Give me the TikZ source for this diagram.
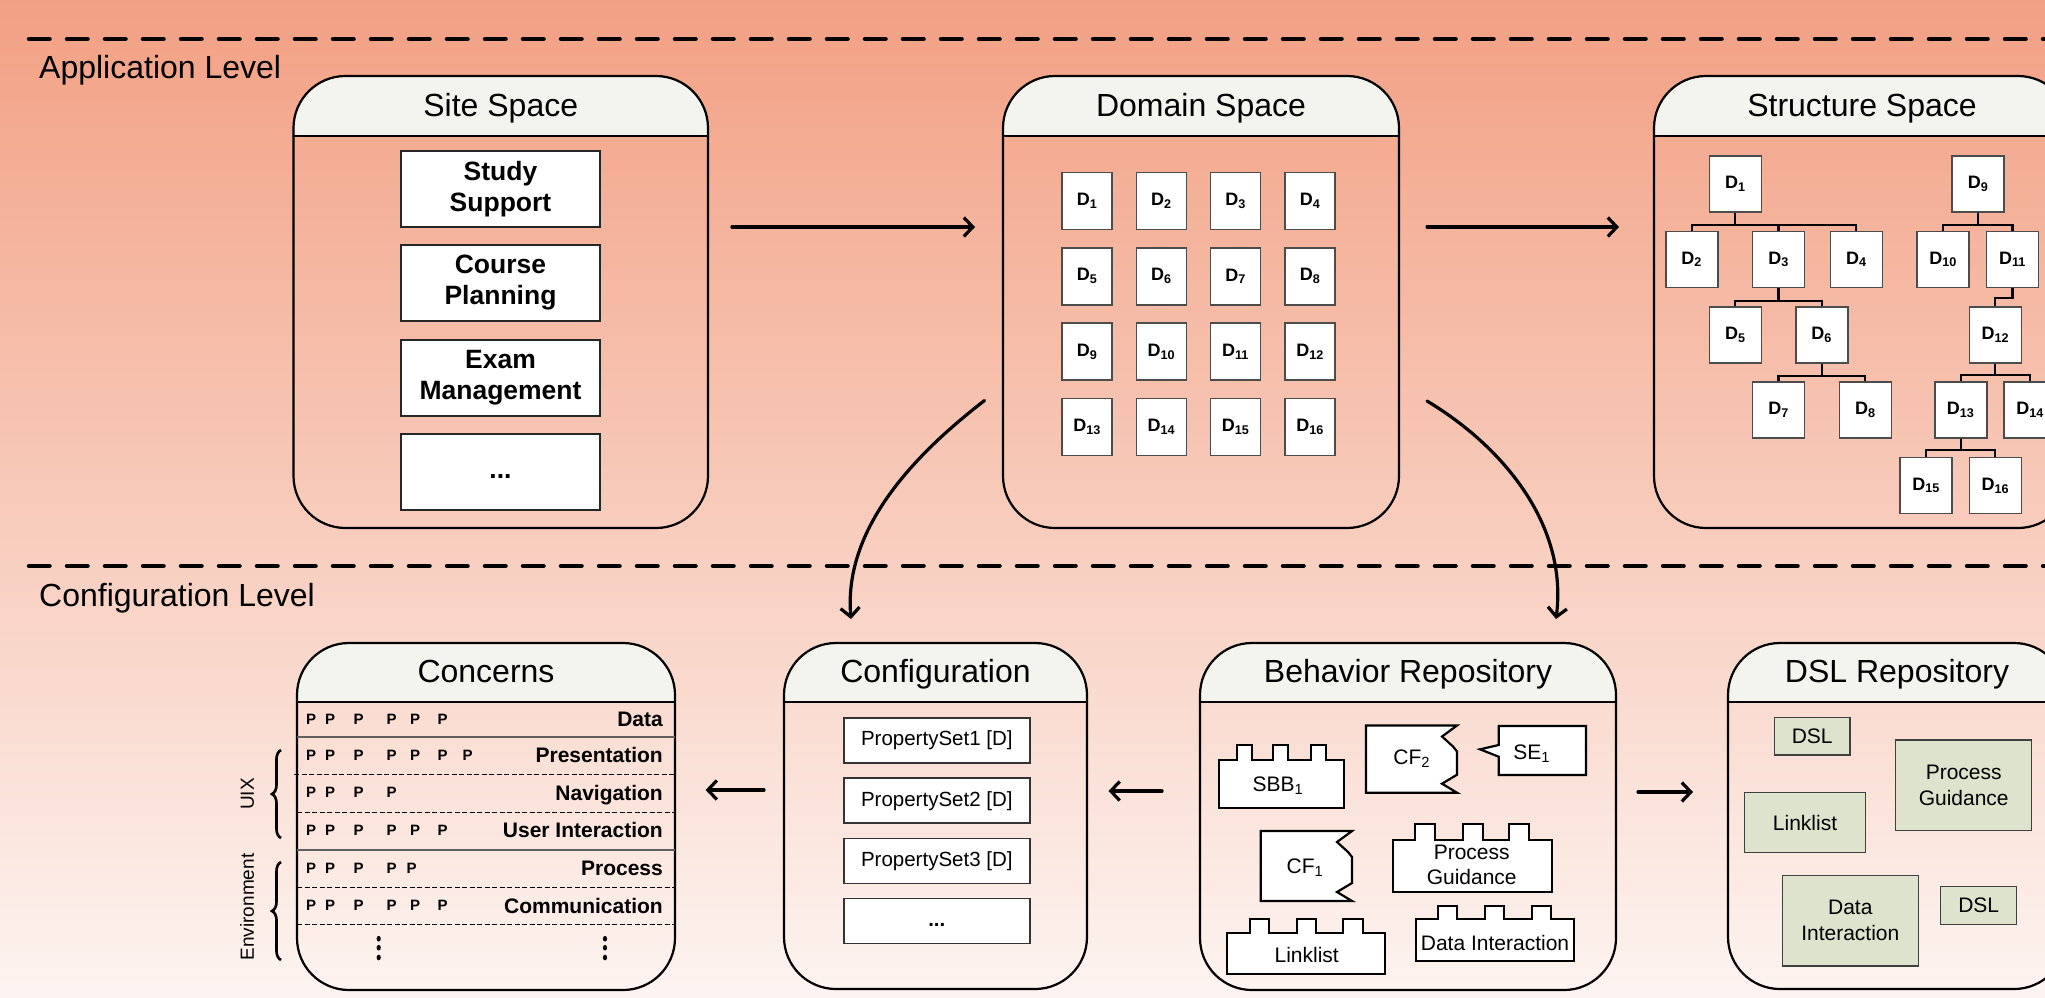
\documentclass[tikz,border=0pt]{standalone}
\usepackage{fontspec}
\setmainfont{Liberation Sans}
\usetikzlibrary{arrows.meta,decorations.pathreplacing}

\definecolor{bgtop}{RGB}{242,160,131}
\definecolor{bgbot}{RGB}{253,244,241}
\definecolor{hdrfill}{RGB}{243,244,238}
\definecolor{dslfill}{RGB}{222,227,206}
\definecolor{rowgray}{RGB}{95,95,95}

% building block with three studs: x1 y1 x2 y2 studtop s1 s2 s3 studwidth
\newcommand\legoblock[9]{%
  \draw[shp] (#1,#4) -- (#1,#2) -- (#6,#2) -- (#6,#5) -- ({#6+#9},#5) -- ({#6+#9},#2)
    -- (#7,#2) -- (#7,#5) -- ({#7+#9},#5) -- ({#7+#9},#2)
    -- (#8,#2) -- (#8,#5) -- ({#8+#9},#5) -- ({#8+#9},#2)
    -- (#3,#2) -- (#3,#4) -- cycle;}
% block with a torn right edge: x1 y1 x2 y2
\newcommand\cfblock[4]{%
  \draw[shp] (#3,#2) -- (#1,#2) -- (#1,#4) -- (#3,#4) -- ({#3-15},{#4-9}) -- (#3,{#4-18})
    -- (#3,{#2+26}) -- ({#3-4},{#2+21}) -- ({#3-15},{#2+11}) -- cycle;}

\begin{document}
\begin{tikzpicture}[x=1pt,y=-1pt,
  panel/.style={draw, line width=2.2pt, rounded corners=52pt, outer sep=0pt, inner sep=0pt,
    path picture={\fill[hdrfill, sharp corners] (path picture bounding box.north west) rectangle ([yshift=-#1]path picture bounding box.north east);}},
  hdrline/.style={line width=2.2pt},
  paneltitle/.style={font=\fontsize{32}{38}\selectfont, text height=23pt, text depth=0pt, inner sep=0pt},
  lvllbl/.style={font=\fontsize{32}{38}\selectfont, anchor=west, text height=23pt, text depth=0pt, inner sep=0pt},
  sepline/.style={line width=4.5pt, line cap=round, dash pattern=on 20.5pt off 17.5pt},
  flow/.style={line width=3.2pt, line cap=round, -{Straight Barb[length=9pt,width=19pt]}},
  sitebox/.style={draw=black!85, line width=1.6pt, fill=white, minimum width=199pt, minimum height=76pt,
    align=center, inner sep=0pt, font=\fontsize{26.5}{31}\selectfont\bfseries},
  dbox/.style={draw=black!70, line width=1.6pt, fill=white, minimum width=50pt, minimum height=57pt,
    inner sep=0pt, font=\fontsize{18}{20}\selectfont\bfseries},
  sbox/.style={dbox, minimum width=52pt, minimum height=56pt},
  treeln/.style={line width=2.2pt},
  plbl/.style={font=\fontsize{15}{17}\selectfont\bfseries, anchor=base, inner sep=0pt},
  rlbl/.style={font=\fontsize{21}{24}\selectfont\bfseries, anchor=base east, inner sep=0pt},
  rowsolid/.style={draw=rowgray, line width=1.6pt},
  rowdash/.style={line width=1.4pt, dash pattern=on 5pt off 2.5pt},
  bracelbl/.style={decorate, decoration={brace, amplitude=9pt}, line width=2.6pt},
  sidelbl/.style={font=\fontsize{19}{22}\selectfont, rotate=90, inner sep=0pt, text height=13.6pt, text depth=0pt},
  psbox/.style={draw=black!80, line width=1.5pt, fill=white, minimum width=186pt, minimum height=45pt,
    inner sep=0pt, font=\fontsize{20.5}{24}\selectfont},
  shp/.style={draw, line width=2.2pt, fill=white, line join=miter},
  btxt/.style={font=\fontsize{21}{24.7}\selectfont, align=center, inner sep=0pt},
  dslbox/.style={draw=black!75, line width=1.5pt, fill=dslfill, inner sep=0pt, align=center,
    font=\fontsize{21}{26}\selectfont}]

\clip (0,0) rectangle (2045,997);
\shade[top color=bgtop, bottom color=bgbot] (0,0) rectangle (2045,997);

% level separators
\draw[sepline] (29,39) -- (2070,39);
\draw[sepline] (29,566) -- (2070,566);
\node[lvllbl] (applvl) at (39,67) {Application Level};
\node[lvllbl] (cfglvl) at (39,595) {Configuration Level};

% panels
\node[panel=60pt, minimum width=414.5pt, minimum height=452pt] (site) at (500.75,302) {};
\node[panel=60pt, minimum width=396pt, minimum height=452pt] (domain) at (1201,302) {};
\node[panel=60pt, minimum width=416pt, minimum height=452pt] (struct) at (1862,302) {};
\node[panel=59pt, minimum width=378pt, minimum height=347pt] (concerns) at (486,816.5) {};
\node[panel=59pt, minimum width=303pt, minimum height=346pt] (config) at (935.5,816) {};
\node[panel=59pt, minimum width=416pt, minimum height=347pt] (behav) at (1408,816.5) {};
\node[panel=59pt, minimum width=338pt, minimum height=346pt] (dslrepo) at (1897,816) {};
\foreach \p/\h in {site/60,domain/60,struct/60,concerns/59,config/59,behav/59,dslrepo/59}
  \draw[hdrline] ([yshift=-\h pt]\p.north west) -- ([yshift=-\h pt]\p.north east);

\node[paneltitle] (siteT) at ([yshift=-29pt]site.north) {Site Space};
\node[paneltitle] (domainT) at ([yshift=-29pt]domain.north) {Domain Space};
\node[paneltitle] (structT) at ([yshift=-29pt]struct.north) {Structure Space};
\node[paneltitle] (concernsT) at ([yshift=-28pt]concerns.north) {Concerns};
\node[paneltitle] (configT) at ([yshift=-28pt]config.north) {Configuration};
\node[paneltitle] (behavT) at ([yshift=-28pt]behav.north) {Behavior Repository};
\node[paneltitle] (dslrepoT) at ([yshift=-28pt]dslrepo.north) {DSL Repository};

% site space
\node[sitebox] (study) at (500.5,189) {Study\\Support};
\node[sitebox] (course) at (500.5,283) {Course\\Planning};
\node[sitebox] (exam) at (500.5,378) {Exam\\Management};
\node[sitebox, text height=12pt, text depth=0pt] (moresites) at (500.5,472) {...};

% domain space
\foreach \r/\yy in {0/200.8,1/276.2,2/351.5,3/427}
  \foreach \c/\xx in {0/1087,1/1161.3,2/1235.5,3/1310.2} {
    \pgfmathtruncatemacro\k{4*\r+\c+1}
    \node[dbox] (dd\k) at (\xx,\yy) {D\textsubscript{\k}};
  }

% structure space
\node[sbox] (s1) at (1735.3,184) {D\textsubscript{1}};
\node[sbox] (s9) at (1978,184) {D\textsubscript{9}};
\node[sbox] (s2) at (1691.7,259.3) {D\textsubscript{2}};
\node[sbox] (s3) at (1778.5,259.3) {D\textsubscript{3}};
\node[sbox] (s4) at (1856.3,259.3) {D\textsubscript{4}};
\node[sbox] (s10) at (1943,259.3) {D\textsubscript{10}};
\node[sbox] (s11) at (2012.5,259.3) {D\textsubscript{11}};
\node[sbox] (s5) at (1735.3,335) {D\textsubscript{5}};
\node[sbox] (s6) at (1821.7,335) {D\textsubscript{6}};
\node[sbox] (s12) at (1995.3,335) {D\textsubscript{12}};
\node[sbox] (s7) at (1778.5,410) {D\textsubscript{7}};
\node[sbox] (s8) at (1865.3,410) {D\textsubscript{8}};
\node[sbox] (s13) at (1960.7,410) {D\textsubscript{13}};
\node[sbox] (s14) at (2030,410) {D\textsubscript{14}};
\node[sbox] (s15) at (1926,485.5) {D\textsubscript{15}};
\node[sbox] (s16) at (1995.3,485.5) {D\textsubscript{16}};
\foreach \a/\b/\d in {s1/s2/12,s1/s3/12,s1/s4/12,s3/s5/12.7,s3/s6/12.7,s6/s7/12,s6/s8/12,
    s9/s10/12,s9/s11/12,s11/s12/10,s12/s13/11,s12/s14/11,s13/s15/11,s13/s16/11}
  \draw[treeln] (\a.south) -- ++(0,\d) -| (\b.north);

% concerns
\draw[rowsolid] (297,736.7) -- (675,736.7);
\draw[rowdash] (294,774.3) -- (675,774.3);
\draw[rowdash] (297,812.3) -- (675,812.3);
\draw[rowsolid] (297,849.7) -- (675,849.7);
\draw[rowdash] (297,887.3) -- (675,887.3);
\draw[rowdash] (297,924.7) -- (675,924.7);
\foreach \lbl/\yb/\xs [count=\i] in {
    Data/726.8/{311,330,358.7,391.7,415,442.7},
    Presentation/762.5/{311,330,358.7,391.7,415,442.7,467.7},
    Navigation/800.2/{311,330,358.7,391.7},
    User Interaction/837.5/{311,330,358.7,391.7,415,442.7},
    Process/875.8/{311,330,358.7,391.7,411.7},
    Communication/913.2/{311,330,358.7,391.7,415,442.7}} {
  \node[rlbl] (row\i) at (663,\yb) {\lbl};
  \foreach \x [count=\j] in \xs
    \node[plbl] (p\i-\j) at (\x,\yb-2.5) {P};
}
\foreach \x in {378.7,605}
  \foreach \y in {938.7,947.7,957.5}
    \fill (\x,\y) ellipse [x radius=2.1, y radius=2.8];
\draw[bracelbl] (281,838) -- (281,750);
\draw[bracelbl] (281,960) -- (281,862);
\node[sidelbl] (uix) at (247,794) {UIX};
\node[sidelbl] (env) at (247,907) {Environment};

% configuration
\node[psbox] (ps1) at (936.8,740.5) {PropertySet1 [D]};
\node[psbox] (ps2) at (936.8,800.7) {PropertySet2 [D]};
\node[psbox] (ps3) at (936.8,861) {PropertySet3 [D]};
\node[psbox, text height=10pt, text depth=0pt] (ps4) at (936.8,921.2) {\textbf{...}};

% behavior repository
\legoblock{1219}{760}{1344}{807.7}{745}{1236.7}{1273.3}{1310.7}{15}
\legoblock{1393}{840}{1552}{891.7}{824}{1415.3}{1462.7}{1509.3}{20}
\legoblock{1226.7}{932.7}{1385.3}{974.3}{919.3}{1250}{1296.7}{1343.3}{19.3}
\legoblock{1415.7}{919.3}{1574}{961}{906}{1437.7}{1485}{1531.7}{19.3}
\cfblock{1366}{725.5}{1457}{792.7}
\cfblock{1260.7}{831}{1352}{901}
\draw[shp] (1498.7,726) -- (1586,726) -- (1586,775) -- (1498.7,775) -- (1498.7,756.7)
  -- (1480,749.3) -- (1498.7,745) -- cycle;
\node[btxt] (sbbT) at (1278,786) {SBB\textsubscript{1}};
\node[btxt] (cf2T) at (1411.7,758.3) {CF\textsubscript{2}};
\node[btxt] (se1T) at (1531.7,753.3) {SE\textsubscript{1}};
\node[btxt] (cf1T) at (1305,867.3) {CF\textsubscript{1}};
\node[btxt] (pgT) at (1471.7,865) {Process\\Guidance};
\node[btxt] (llT) at (1306.7,955) {Linklist};
\node[btxt] (diT) at (1495,942.7) {Data Interaction};

% DSL repository
\node[dslbox, minimum width=75.7pt, minimum height=37.7pt] (dsl1) at (1812.2,736.2) {DSL};
\node[dslbox, minimum width=136pt, minimum height=90.7pt] (dslpg) at (1963.7,785.3) {Process\\Guidance};
\node[dslbox, minimum width=121.4pt, minimum height=60pt] (dslll) at (1805,822.7) {Linklist};
\node[dslbox, minimum width=136pt, minimum height=90.3pt] (dsldi) at (1850.3,920.8) {Data\\Interaction};
\node[dslbox, minimum width=76pt, minimum height=37.6pt] (dsl2) at (1978.7,905.5) {DSL};

% flows
\draw[flow] ([xshift=24pt,yshift=75pt]site.east) -- ([xshift=-28pt,yshift=75pt]domain.west);
\draw[flow] ([xshift=28pt,yshift=75pt]domain.east) -- ([xshift=-35pt,yshift=75pt]struct.west);
\draw[flow] ([xshift=-18.5pt,yshift=-98.5pt]domain.west) .. controls +(-62,48) and +(-8,-95) .. ([xshift=-84.5pt,yshift=24pt]config.north);
\draw[flow] ([xshift=28pt,yshift=-99pt]domain.east) .. controls +(75,45) and +(12,-95) .. ([xshift=148pt,yshift=24pt]behav.north);
\draw[flow] ([xshift=-38pt,yshift=25.5pt]behav.west) -- ([xshift=21.5pt,yshift=25pt]config.east);
\draw[flow] ([xshift=-20pt,yshift=26pt]config.west) -- ([xshift=30.6pt,yshift=26.5pt]concerns.east);
\draw[flow] ([xshift=22pt,yshift=24.5pt]behav.east) -- ([xshift=-35pt,yshift=24pt]dslrepo.west);
\end{tikzpicture}
\end{document}
